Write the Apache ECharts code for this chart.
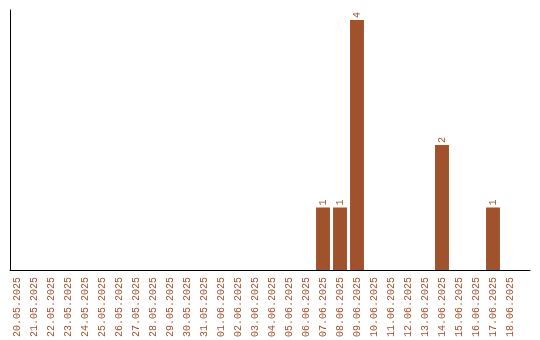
<!DOCTYPE html>
<html><head><meta charset="utf-8">
<script src="https://cdn.jsdelivr.net/npm/echarts@6/dist/echarts.min.js"></script>
<style>html,body{margin:0;padding:0;background:#fff}#c{width:540px;height:340px}</style>
</head><body><div id="c"></div>
<script>
const categories = ["20.05.2025","21.05.2025","22.05.2025","23.05.2025","24.05.2025","25.05.2025","26.05.2025","27.05.2025","28.05.2025","29.05.2025","30.05.2025","31.05.2025","01.06.2025","02.06.2025","03.06.2025","04.06.2025","05.06.2025","06.06.2025","07.06.2025","08.06.2025","09.06.2025","10.06.2025","11.06.2025","12.06.2025","13.06.2025","14.06.2025","15.06.2025","16.06.2025","17.06.2025","18.06.2025"];
const values = [0,0,0,0,0,0,0,0,0,0,0,0,0,0,0,0,0,0,1,1,4,0,0,0,0,2,0,0,1,0];
const color = '#a0522d';
const font = 'Liberation Mono';
const chart = echarts.init(document.getElementById('c'));
chart.setOption({
  animation: false,
  grid: [
    {left: 8.5, width: 510, top: 10, bottom: 70, containLabel: false},
    {left: 10, right: 10, top: 10, bottom: 70, containLabel: false}
  ],
  xAxis: [{
    type: 'category', data: categories, gridIndex: 0,
    axisLine: {show: false},
    axisTick: {show: false},
    axisLabel: {rotate: 90, interval: 0, color: color, fontFamily: font, fontSize: 10, margin: 7}
  }, {
    type: 'value', gridIndex: 1, min: 0, max: 1,
    axisLine: {show: true, lineStyle: {color: '#000', width: 1}},
    axisTick: {show: false}, axisLabel: {show: false}, splitLine: {show: false}
  }],
  yAxis: [{
    type: 'value', gridIndex: 0, min: 0, max: 4.16,
    axisLine: {show: false},
    axisTick: {show: false}, axisLabel: {show: false}, splitLine: {show: false}
  }, {
    type: 'value', gridIndex: 1, min: 0, max: 1,
    axisLine: {show: true, onZero: false, lineStyle: {color: '#000', width: 1}},
    axisTick: {show: false}, axisLabel: {show: false}, splitLine: {show: false}
  }],
  series: [{
    type: 'bar', xAxisIndex: 0, yAxisIndex: 0,
    data: values.map(v => v === 0 ? {value: 0, label: {show: false}} : v),
    barCategoryGap: '18%',
    itemStyle: {color: color},
    label: {show: true, position: 'top', rotate: 90, align: 'left', verticalAlign: 'middle', distance: 2, color: color, fontFamily: font, fontSize: 10}
  }]
});
</script></body></html>
